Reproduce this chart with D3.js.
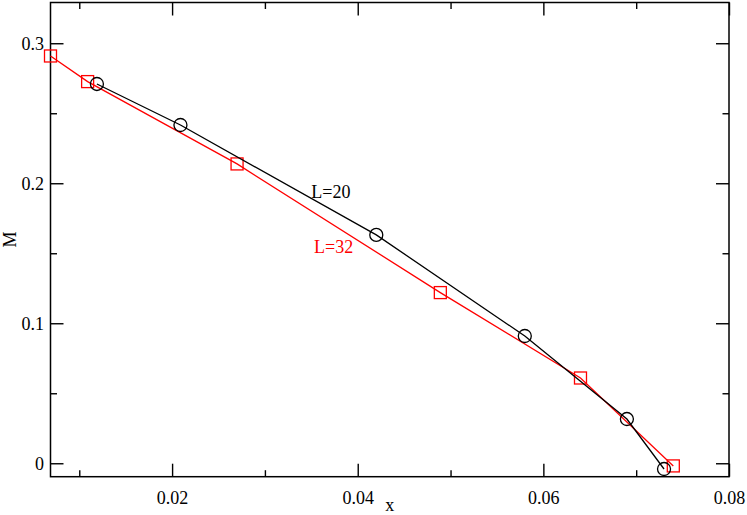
<!DOCTYPE html>
<html>
<head>
<meta charset="utf-8">
<script src="https://cdn.jsdelivr.net/npm/d3@7"></script>
<style>
  body { margin: 0; background: #fff; }
  svg { display: block; font-family: "Liberation Serif", "DejaVu Serif", serif; }
</style>
</head>
<body>
<svg id="chart" width="747" height="515"></svg>
<script>
// data
const l20X = [0.0119, 0.0209, 0.0420, 0.0580, 0.0690, 0.0730];
const l20M = [0.2709, 0.2416, 0.1631, 0.0909, 0.0316, -0.0041];
const l32X = [0.0069, 0.0109, 0.0270, 0.0489, 0.0640, 0.0740];
const l32M = [0.2909, 0.2726, 0.2138, 0.1219, 0.0609, -0.0019];

const xTicks = [0.02, 0.04, 0.06, 0.08];
const xMinor = [0.01, 0.03, 0.05, 0.07];
const yTicks = [0, 0.1, 0.2, 0.3];
const yMinor = [0.05, 0.15, 0.25];

const labels = [
  { text: "L=20", x: 0.0350, y: 0.1895, color: "#000" },
  { text: "L=32", x: 0.0353, y: 0.1502, color: "#ff0000" }
];

const margin = { top: 2.5, right: 18, bottom: 38.3, left: 50.5 };
const W = 747, H = 515;
const w = W - margin.left - margin.right;
const h = H - margin.top - margin.bottom;

const svg = d3.select('#chart');
const g = svg.append('g').attr('transform', `translate(${margin.left},${margin.top})`);

const x = d3.scaleLinear().domain([0.0069, 0.08]).range([0, w]);
const y = d3.scaleLinear().domain([-0.0096, 0.3291]).range([h, 0]);

const fmt = d => d === 0 ? "0" : d3.format(".2~f")(d);
const fontSize = 18;

function drawAxis(axis, transform) {
  const a = g.append('g').attr('transform', transform).call(axis);
  a.select('.domain').remove();
  a.selectAll('line').attr('stroke', '#000').attr('stroke-width', 1.4);
  a.selectAll('text').attr('font-size', fontSize).attr('fill', '#000')
    .attr('font-family', '"Liberation Serif", serif');
  return a;
}

// major ticks, inward on all four sides
drawAxis(d3.axisBottom(x).tickValues(xTicks).tickSize(-13).tickSizeOuter(0).tickPadding(14.5).tickFormat(fmt), `translate(0,${h})`);
drawAxis(d3.axisTop(x).tickValues(xTicks).tickSize(-13).tickSizeOuter(0).tickFormat(''), 'translate(0,0)');
drawAxis(d3.axisLeft(y).tickValues(yTicks).tickSize(-13).tickSizeOuter(0).tickPadding(6.5).tickFormat(fmt), 'translate(0,0)');
drawAxis(d3.axisRight(y).tickValues(yTicks).tickSize(-13).tickSizeOuter(0).tickFormat(''), `translate(${w},0)`);

// minor ticks
drawAxis(d3.axisBottom(x).tickValues(xMinor).tickSize(-6.5).tickSizeOuter(0).tickFormat(''), `translate(0,${h})`);
drawAxis(d3.axisTop(x).tickValues(xMinor).tickSize(-6.5).tickSizeOuter(0).tickFormat(''), 'translate(0,0)');
drawAxis(d3.axisLeft(y).tickValues(yMinor).tickSize(-6.5).tickSizeOuter(0).tickFormat(''), 'translate(0,0)');
drawAxis(d3.axisRight(y).tickValues(yMinor).tickSize(-6.5).tickSizeOuter(0).tickFormat(''), `translate(${w},0)`);

// frame
g.append('rect')
  .attr('width', w).attr('height', h)
  .attr('fill', 'none').attr('stroke', '#000').attr('stroke-width', 1.5);

const line = d3.line().x(d => x(d[0])).y(d => y(d[1]));
const l20 = l20X.map((v, i) => [v, l20M[i]]);
const l32 = l32X.map((v, i) => [v, l32M[i]]);

// L=32 (red, squares)
g.append('path').datum(l32).attr('d', line)
  .attr('fill', 'none').attr('stroke', '#ff0000').attr('stroke-width', 1.3);
g.selectAll('.sq').data(l32).enter().append('rect')
  .attr('x', d => x(d[0]) - 6).attr('y', d => y(d[1]) - 6)
  .attr('width', 12).attr('height', 12)
  .attr('fill', 'none').attr('stroke', '#ff0000').attr('stroke-width', 1.3);

// L=20 (black, circles)
g.append('path').datum(l20).attr('d', line)
  .attr('fill', 'none').attr('stroke', '#000').attr('stroke-width', 1.3);
g.selectAll('.ci').data(l20).enter().append('circle')
  .attr('cx', d => x(d[0])).attr('cy', d => y(d[1])).attr('r', 6.5)
  .attr('fill', 'none').attr('stroke', '#000').attr('stroke-width', 1.3);

// in-plot labels
g.selectAll('.lbl').data(labels).enter().append('text')
  .attr('x', d => x(d.x)).attr('y', d => y(d.y))
  .attr('fill', d => d.color).attr('font-size', 18)
  .text(d => d.text);

// axis titles
svg.append('text')
  .attr('x', margin.left + w / 2).attr('y', 511)
  .attr('text-anchor', 'middle').attr('font-size', 18).text('x');
svg.append('text')
  .attr('transform', `translate(16,${margin.top + h / 2}) rotate(-90)`)
  .attr('text-anchor', 'middle').attr('font-size', 18).text('M');
</script>
</body>
</html>
